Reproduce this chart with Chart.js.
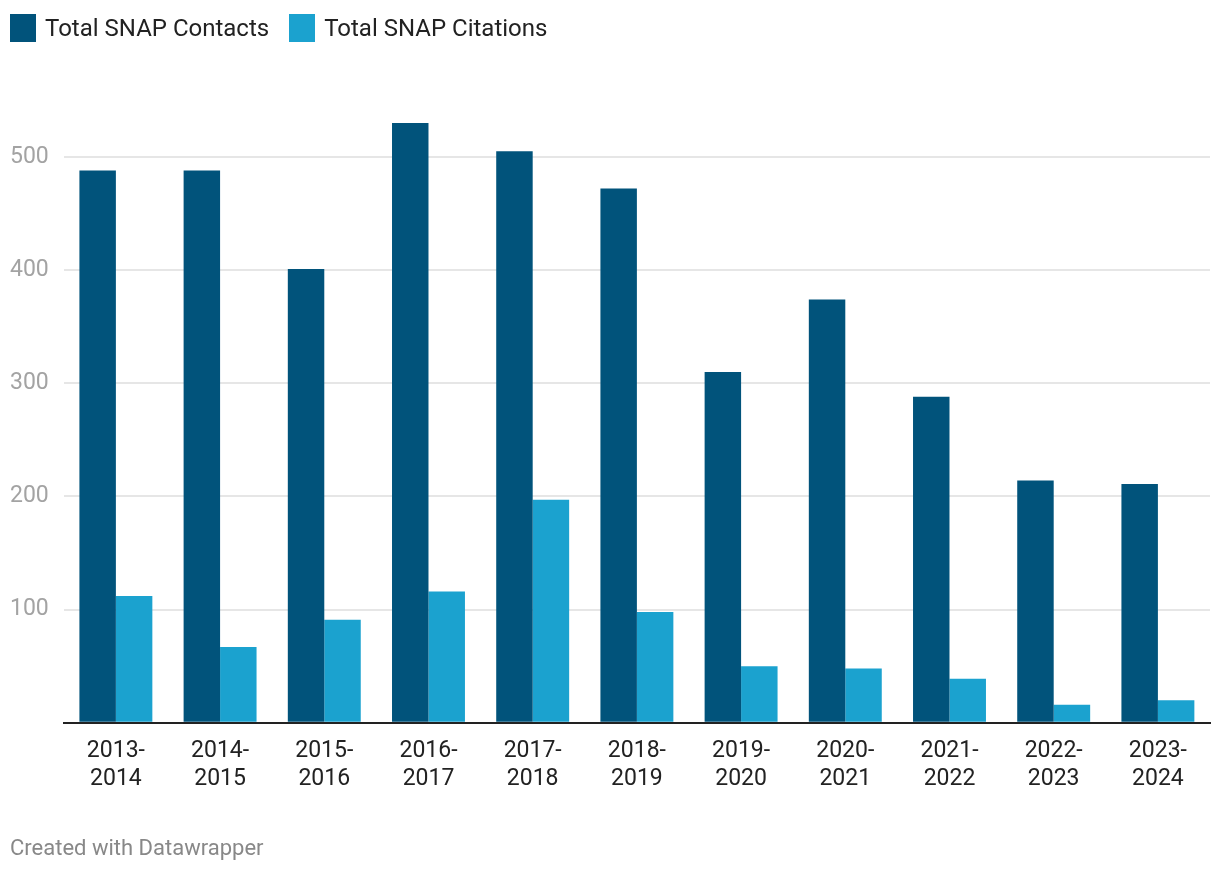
<!DOCTYPE html>
<html lang="en">
<head>
    <meta charset="UTF-8">
    <title>SNAP Contacts and Citations</title>
    <script src="https://cdn.jsdelivr.net/npm/chart.js@4.4.1/dist/chart.umd.min.js"></script>
    <style>
        body {
            margin: 0;
            background: #fff;
            font-family: Roboto, Arial, sans-serif;
        }
        .wrap {
            position: relative;
            width: 1220px;
            height: 872px;
        }
        .legend {
            position: absolute;
            top: 14px;
            left: 10px;
            display: flex;
            gap: 20px;
            font-size: 24px;
            color: #222;
        }
        .legend-item {
            display: flex;
            align-items: center;
        }
        .legend-box {
            width: 26px;
            height: 28px;
            margin-right: 9px;
        }
        .footer {
            position: absolute;
            left: 10px;
            top: 835px;
            font-size: 22px;
            color: #888;
        }
        .chart-box {
            position: absolute;
            left: 0;
            top: 0;
            width: 1220px;
            height: 872px;
        }
    </style>
</head>
<body>
    <div class="wrap">
        <div class="chart-box"><canvas id="chart"></canvas></div>
        <div class="legend" id="legend"></div>
        <div class="footer">Created with Datawrapper</div>
    </div>

    <script>
        const years = [
            ['2013-', '2014'], ['2014-', '2015'], ['2015-', '2016'], ['2016-', '2017'],
            ['2017-', '2018'], ['2018-', '2019'], ['2019-', '2020'], ['2020-', '2021'],
            ['2021-', '2022'], ['2022-', '2023'], ['2023-', '2024']
        ];
        const contacts = [488, 488, 401, 530, 505, 472, 310, 374, 288, 214, 211];
        const citations = [112, 67, 91, 116, 197, 98, 50, 48, 39, 16, 20];
        const yTicks = [0, 100, 200, 300, 400, 500];

        const seriesNames = ['Total SNAP Contacts', 'Total SNAP Citations'];
        const seriesColors = ['#01537b', '#1ba2cf'];

        // HTML legend
        const legend = document.getElementById('legend');
        seriesNames.forEach((name, i) => {
            const item = document.createElement('div');
            item.className = 'legend-item';
            item.innerHTML = `<span class="legend-box" style="background:${seriesColors[i]}"></span><span>${name}</span>`;
            legend.appendChild(item);
        });

        const ctx = document.getElementById('chart').getContext('2d');
        new Chart(ctx, {
            type: 'bar',
            data: {
                labels: years,
                datasets: [
                    { label: seriesNames[0], data: contacts, backgroundColor: seriesColors[0] },
                    { label: seriesNames[1], data: citations, backgroundColor: seriesColors[1] }
                ]
            },
            options: {
                responsive: true,
                maintainAspectRatio: false,
                animation: false,
                categoryPercentage: 0.7,
                barPercentage: 1.0,
                layout: {
                    padding: { top: 89, left: 10, right: 10, bottom: 72 }
                },
                plugins: {
                    legend: { display: false },
                    tooltip: { enabled: false }
                },
                scales: {
                    x: {
                        grid: { display: false },
                        border: { display: true, color: '#222', width: 2 },
                        ticks: {
                            color: '#222',
                            padding: 7,
                            font: { family: 'Roboto', size: 23, lineHeight: 1.2 },
                            maxRotation: 0,
                            autoSkip: false
                        }
                    },
                    y: {
                        min: 0,
                        max: 560,
                        afterBuildTicks: scale => {
                            scale.ticks = yTicks.map(v => ({ value: v }));
                        },
                        grid: {
                            drawTicks: false,
                            lineWidth: 2,
                            color: c => c.tick && c.tick.value === 0 ? 'rgba(0,0,0,0)' : '#e6e6e6'
                        },
                        border: { display: false },
                        ticks: {
                            color: '#a3a3a3',
                            padding: 7.5,
                            crossAlign: 'far',
                            font: { family: 'Roboto', size: 23 },
                            callback: v => v === 0 ? '' : v
                        }
                    }
                }
            }
        });
    </script>
</body>
</html>
